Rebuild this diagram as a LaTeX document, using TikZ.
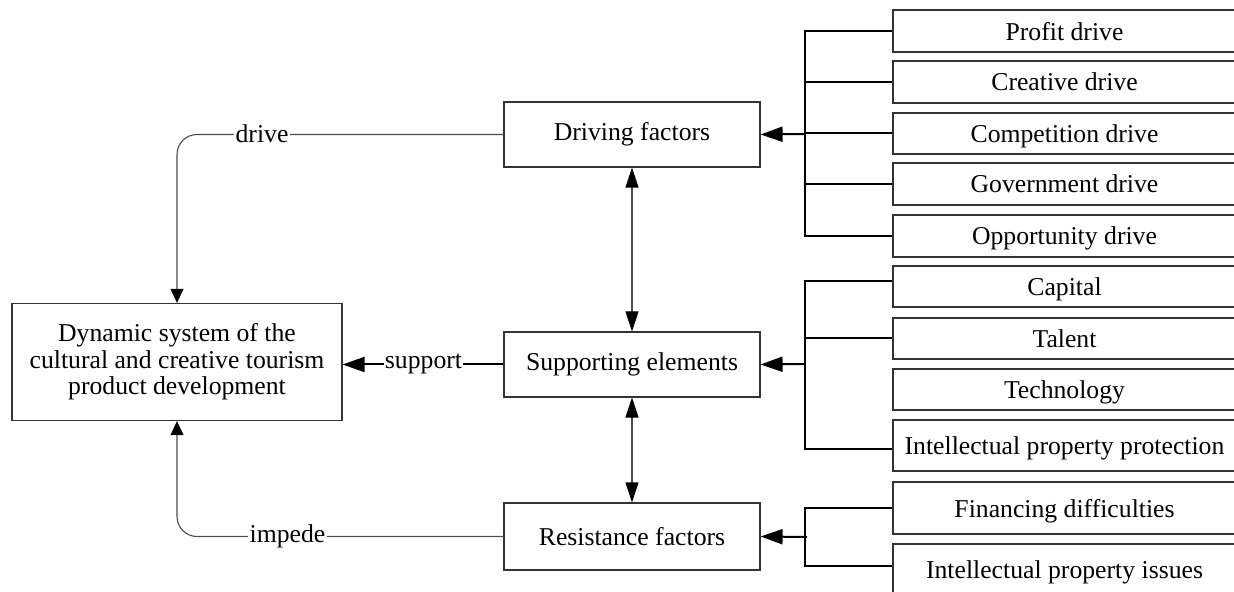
\documentclass[tikz,border=0pt]{standalone}
\usepackage{fontspec}
\setmainfont{Liberation Serif}
\usetikzlibrary{arrows.meta}
\begin{document}
\begin{tikzpicture}[x=0.5pt,y=-0.5pt,
  every node/.style={font=\fontsize{12.85}{13.3}\selectfont},
  box/.style={draw=black!80, line width=0.55pt, fill=white, inner sep=0pt, align=center},
  midbox/.style={box, minimum width=128pt, minimum height=32.5pt},
  sidebox/.style={box, minimum width=178pt, minimum height=21pt, text depth=0pt},
  thinline/.style={draw=black!70, line width=0.55pt},
  thickline/.style={draw=black, line width=1pt},
  smallhead/.style={-{Triangle[length=7pt,width=6.5pt,color=black]}},
  bighead/.style={-{Triangle[length=11pt,width=7.5pt,color=black]}},
  dblhead/.style={{Triangle[length=10pt,width=6.5pt,color=black]}-{Triangle[length=10pt,width=6.5pt,color=black]}},
  lbl/.style={fill=white, inner sep=0.6pt}
]
\useasboundingbox (0,0) rectangle (1234,592);

% central boxes
\node[box, minimum width=165pt, minimum height=58.6pt] (dyn) at (177,362)
  {Dynamic system of the\\cultural and creative tourism\\product development};
\node[midbox] (drv) at (632,134.5) {Driving factors};
\node[midbox] (sup) at (632,364.5) {Supporting elements};
\node[midbox, minimum height=33.5pt] (res) at (632,536.5) {Resistance factors};

% side boxes (right edge runs past the picture)
\node[sidebox] (prof) at (1071,31) {Profit drive\hspace*{6.5pt}};
\node[sidebox] (cre) at (1071,82) {Creative drive\hspace*{6.5pt}};
\node[sidebox, minimum height=20.5pt] (comp) at (1071,133.5) {Competition drive\hspace*{6.5pt}};
\node[sidebox] (gov) at (1071,184) {Government drive\hspace*{6.5pt}};
\node[sidebox] (opp) at (1071,236) {Opportunity drive\hspace*{6.5pt}};
\node[sidebox, minimum height=20.5pt] (cap) at (1071,286.5) {Capital\hspace*{6.5pt}};
\node[sidebox, minimum height=20.5pt] (tal) at (1071,338.5) {Talent\hspace*{6.5pt}};
\node[sidebox, minimum height=20.5pt] (tec) at (1071,389.5) {Technology\hspace*{6.5pt}};
\node[sidebox, minimum height=25.5pt] (ipp) at (1071,445.5) {Intellectual property protection\hspace*{6.5pt}};
\node[sidebox, minimum height=26pt] (fin) at (1071,508) {Financing difficulties\hspace*{6.5pt}};
\node[sidebox, minimum height=26pt] (ipi) at (1071,570) {Intellectual property issues\hspace*{6.5pt}};

% junction coordinates
\coordinate (dj) at (805,134);
\coordinate (sj) at (805,364);
\coordinate (rj) at (805,537);

% driving bracket
\draw[thickline] (prof.west) -| (dj) |- (opp.west);
\draw[thickline] (cre.west) -- (cre.west -| dj);
\draw[thickline] (gov.west) -- (gov.west -| dj);
\draw[thickline] (comp.west) -- (comp.west -| dj);
\draw[thickline, bighead] (dj) -- (drv.east);

% supporting bracket
\draw[thickline] ([yshift=2.75pt]cap.west) -| (sj) |- ([yshift=-1.75pt]ipp.west);
\draw[thickline] (tal.west) -- (tal.west -| sj);
\draw[thickline, bighead] (sj) -- (sup.east);

% resistance bracket
\draw[thickline] (fin.west) -| (rj) |- ([yshift=2pt]ipi.west);
\draw[thickline, bighead] ([xshift=1pt]rj) -- (res.east);

% double arrows
\draw[thinline, dblhead] (drv.south) -- (sup.north);
\draw[thinline, dblhead] (sup.south) -- (res.north);

% left connectors
\draw[thinline, smallhead, rounded corners=10pt] (drv.west) -| (dyn.north);
\draw[thinline, smallhead, rounded corners=10pt] (res.west) -| (dyn.south);
\draw[thickline, bighead] (sup.west) -- (dyn.east |- sup.west);

\node[lbl] (ldrive) at (262,134) {drive};
\node[lbl] (limpede) at (287.5,536.5) {impede};
\node[lbl] (lsupport) at (423.5,364) {support};
\end{tikzpicture}
\end{document}
